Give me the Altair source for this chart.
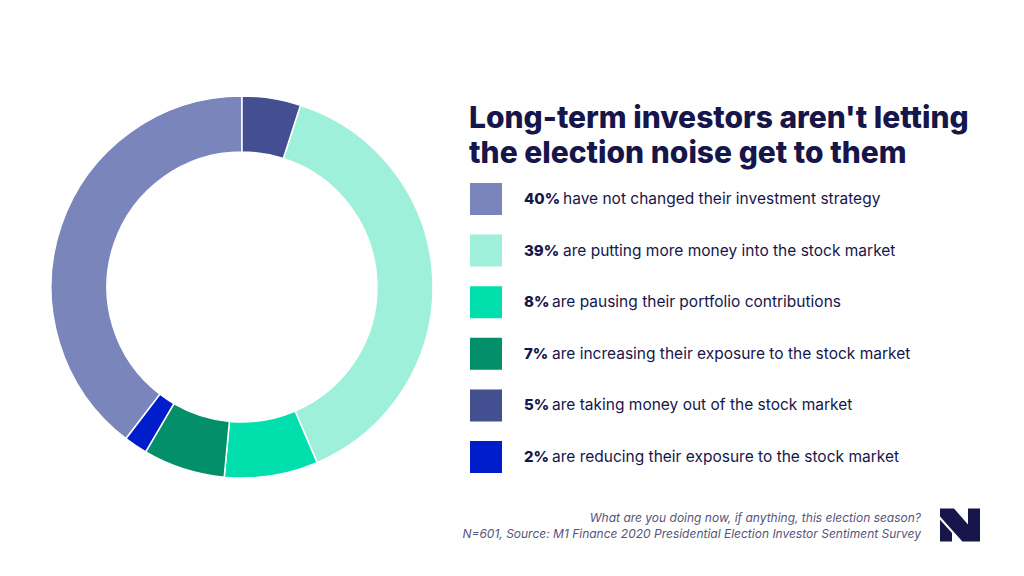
import altair as alt
import pandas as pd

# Data (legend order)
pcts = [40, 39, 8, 7, 5, 2]
labels = [
    "have not changed their investment strategy",
    "are putting more money into the stock market",
    "are pausing their portfolio contributions",
    "are increasing their exposure to the stock market",
    "are taking money out of the stock market",
    "are reducing their exposure to the stock market",
]
colors = ["#7985bb", "#9ef0da", "#00dfac", "#038f69", "#434f91", "#001dcb"]
# order in which slices run clockwise from 12 o'clock
slice_order = [6, 2, 3, 4, 1, 5]

title_lines = ["Long-term investors aren't letting", "the election noise get to them"]
footer_lines = [
    "What are you doing now, if anything, this election season?",
    "N=601, Source: M1 Finance 2020 Presidential Election Investor Sentiment Survey",
]

NAVY = "#16164a"
FONT = "Inter"

df = pd.DataFrame({
    "pct": pcts,
    "label": labels,
    "ord": slice_order,
    "idx": list(range(len(pcts))),
})
df["pct_txt"] = df["pct"].astype(str) + "%"

W, H = 1008, 560

color_scale = alt.Scale(domain=labels, range=colors)

donut = alt.Chart(df).mark_arc(
    outerRadius=191, innerRadius=135, stroke="white", strokeWidth=1.5
).encode(
    theta=alt.Theta("pct:Q", stack=True),
    order=alt.Order("ord:Q"),
    color=alt.Color("label:N", scale=color_scale, legend=None),
    x=alt.value(234),
    y=alt.value(279),
)

yscale = alt.Scale(domain=[0, 5], range=[191, 449])

squares = alt.Chart(df).mark_square(size=1024, opacity=1).encode(
    x=alt.value(478),
    y=alt.Y("idx:Q", scale=yscale, axis=None),
    color=alt.Color("label:N", scale=color_scale, legend=None),
)

pct_text = alt.Chart(df).mark_text(
    align="left", baseline="middle", font=FONT, fontSize=15, fontWeight=800, color=NAVY
).encode(
    x=alt.value(516),
    y=alt.Y("idx:Q", scale=yscale, axis=None),
    text="pct_txt:N",
)

lab_text = alt.Chart(df).transform_calculate(
    tx="516 + 11*(length(datum.pct_txt)-1) + 17"
).mark_text(
    align="left", baseline="middle", font=FONT, fontSize=15.5, fontWeight=400, color=NAVY
).encode(
    x=alt.X("tx:Q", scale=None, axis=None),
    y=alt.Y("idx:Q", scale=yscale, axis=None),
    text="label:N",
)

tdf = pd.DataFrame({"t": title_lines, "i": [0, 1]})
title = alt.Chart(tdf).mark_text(
    align="left", baseline="alphabetic", font=FONT, fontSize=30, fontWeight=800, color=NAVY
).encode(
    x=alt.value(461),
    y=alt.Y("i:Q", scale=alt.Scale(domain=[0, 1], range=[120, 155]), axis=None),
    text="t:N",
)

fdf = pd.DataFrame({"t": footer_lines, "i": [0, 1]})
footer = alt.Chart(fdf).mark_text(
    align="right", baseline="alphabetic", font=FONT, fontSize=12, fontStyle="italic",
    color="#55557a",
).encode(
    x=alt.value(913),
    y=alt.Y("i:Q", scale=alt.Scale(domain=[0, 1], range=[514, 530]), axis=None),
    text="t:N",
)

logo_path = (
    "M -1 -0.83 L -0.3 -0.83 L 0.4 -0.02 L 0.4 -0.83 L 1 -0.83 L 1 0.83 "
    "L 0.12 0.83 L -1 -0.42 Z "
    "M -1 -0.26 L -0.4 0.4 L -0.4 0.83 L -1 0.83 Z"
)
logo = alt.Chart(pd.DataFrame({"a": [0]})).mark_point(
    shape=logo_path, size=1600, filled=True, color=NAVY, opacity=1, strokeWidth=0
).encode(
    x=alt.value(952),
    y=alt.value(517),
)

chart = alt.layer(donut, squares, pct_text, lab_text, title, footer, logo).properties(
    width=W, height=H, background="white", padding=0,
    autosize=alt.AutoSizeParams(type="none"),
).configure_view(stroke=None).resolve_scale(y="independent", x="independent")

chart.save("out.html", embed_options={"renderer": "svg", "actions": False})
